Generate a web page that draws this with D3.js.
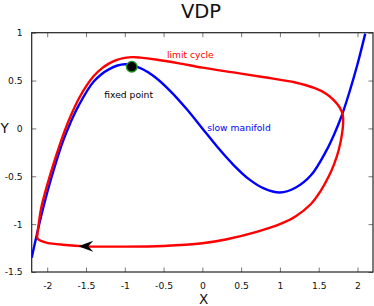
<!DOCTYPE html>
<html><head><meta charset="utf-8">
<script src="https://cdn.jsdelivr.net/npm/d3@7"></script>
<style>body{margin:0;background:#fff}svg{display:block}text{font-family:"DejaVu Sans",sans-serif}</style>
</head><body><svg id="c" width="374" height="306"></svg>
<script>
// slow manifold (blue)
const manifoldX = [-2.2,-2.1,-2.0,-1.9,-1.8,-1.7,-1.6,-1.4,-1.2,-1.0,-0.8,-0.6,-0.4,-0.2,0,0.2,0.4,0.6,0.8,1.0,1.2,1.4,1.6,1.7,1.8,1.9,2.0,2.1];
const manifoldY = [-1.35,-0.99,-0.67,-0.39,-0.14,0.06,0.23,0.49,0.62,0.67,0.63,0.53,0.38,0.20,0,-0.20,-0.38,-0.53,-0.63,-0.67,-0.62,-0.49,-0.23,-0.06,0.14,0.39,0.67,0.99];
// limit cycle (red)
const cycleX = [-2.13,-2.11,-2.075,-1.975,-1.875,-1.78,-1.685,-1.59,-1.495,-1.40,-1.30,-1.20,-1.1,-1.0,-0.9,-0.8,-0.6,-0.3,0,0.4,0.8,1.2,1.45,1.6,1.7,1.77,1.81,1.815,1.80,1.76,1.70,1.63,1.52,1.40,1.20,1.0,0.7,0.3,0,-0.5,-1.0,-1.5,-1.8,-2.0,-2.08,-2.12,-2.13];
const cycleY = [-1.13,-1.0,-0.822,-0.521,-0.261,-0.036,0.153,0.315,0.445,0.548,0.625,0.68,0.717,0.737,0.745,0.74,0.72,0.68,0.635,0.585,0.535,0.48,0.42,0.36,0.29,0.22,0.14,0.06,-0.06,-0.22,-0.37,-0.50,-0.66,-0.79,-0.92,-1.0,-1.08,-1.16,-1.20,-1.228,-1.235,-1.232,-1.215,-1.195,-1.175,-1.155,-1.13];
const fixedPoint = [-0.91, 0.645];
const arrowAt = [-1.6, -1.232];
const xTicks = [-2,-1.5,-1,-0.5,0,0.5,1,1.5,2];
const yTicks = [-1.5,-1,-0.5,0,0.5,1];
const labels = [
  {text:"limit cycle", x:-0.457, y:0.739, color:"#ff0000"},
  {text:"fixed point", x:-1.265, y:0.32, color:"#000000"},
  {text:"slow manifold", x:0.062, y:-0.023, color:"#0000ff"}
];

const svg = d3.select("#c");
const L=31.7, R=373, T=32.7, B=272;
const x = d3.scaleLinear().domain([-2.2,2.2]).range([L,R]);
const y = d3.scaleLinear().domain([-1.5,1]).range([B,T]);

svg.append("defs").append("clipPath").attr("id","clip")
  .append("rect").attr("x",L).attr("y",T).attr("width",R-L).attr("height",B-T);

const fmt = d => String(d);
const gB = svg.append("g").attr("transform",`translate(0,${B})`)
  .call(d3.axisBottom(x).tickValues(xTicks).tickSize(-4.5).tickPadding(10).tickFormat(fmt));
const gT = svg.append("g").attr("transform",`translate(0,${T})`)
  .call(d3.axisTop(x).tickValues(xTicks).tickSize(-4.5).tickFormat(""));
const gL = svg.append("g").attr("transform",`translate(${L},0)`)
  .call(d3.axisLeft(y).tickValues(yTicks).tickSize(-4.5).tickPadding(9).tickFormat(fmt));
const gR = svg.append("g").attr("transform",`translate(${R},0)`)
  .call(d3.axisRight(y).tickValues(yTicks).tickSize(-4.5).tickFormat(""));
[gB,gT,gL,gR].forEach(g=>{
  g.select(".domain").remove();
  g.selectAll(".tick line").attr("stroke","#777").attr("stroke-width",1);
  g.selectAll(".tick text").attr("font-size","9.2px").attr("fill","#111").attr("font-family","DejaVu Sans, sans-serif");
});
svg.append("rect").attr("x",L).attr("y",T).attr("width",R-L).attr("height",B-T)
  .attr("fill","none").attr("stroke","#222").attr("stroke-width",1.2);

const plot = svg.append("g").attr("clip-path","url(#clip)");
const line = d3.line().x(d=>x(d[0])).y(d=>y(d[1])).curve(d3.curveCatmullRom.alpha(0.5));

plot.append("path").datum(manifoldX.map((v,i)=>[v,manifoldY[i]]))
  .attr("d",line).attr("fill","none").attr("stroke","#0000ff").attr("stroke-width",2.4);
plot.append("path").datum(cycleX.map((v,i)=>[v,cycleY[i]]))
  .attr("d",line).attr("fill","none").attr("stroke","#ff0000").attr("stroke-width",2.4).attr("stroke-linejoin","round");

const ax=x(arrowAt[0]), ay=y(arrowAt[1]);
svg.append("path").attr("d",`M${ax},${ay} L${ax+15},${ay-5.5} L${ax+10},${ay} L${ax+15},${ay+5.5} Z`)
  .attr("fill","#000");

svg.append("circle").attr("cx",x(fixedPoint[0])).attr("cy",y(fixedPoint[1])).attr("r",5.3)
  .attr("fill","#000").attr("stroke","#1a9a1a").attr("stroke-width",1.4);

labels.forEach(l=>svg.append("text").attr("x",x(l.x)).attr("y",y(l.y)).attr("fill",l.color)
  .attr("font-size","9.2px").text(l.text));

svg.append("text").attr("x",201).attr("y",17.5).attr("text-anchor","middle").attr("font-size","19.5px").attr("fill","#111").text("VDP");
svg.append("text").attr("x",203.5).attr("y",304).attr("text-anchor","middle").attr("font-size","13.5px").attr("fill","#111").text("X");
svg.append("text").attr("x",0.5).attr("y",132.7).attr("font-size","13.5px").attr("fill","#111").text("Y");
</script></body></html>
